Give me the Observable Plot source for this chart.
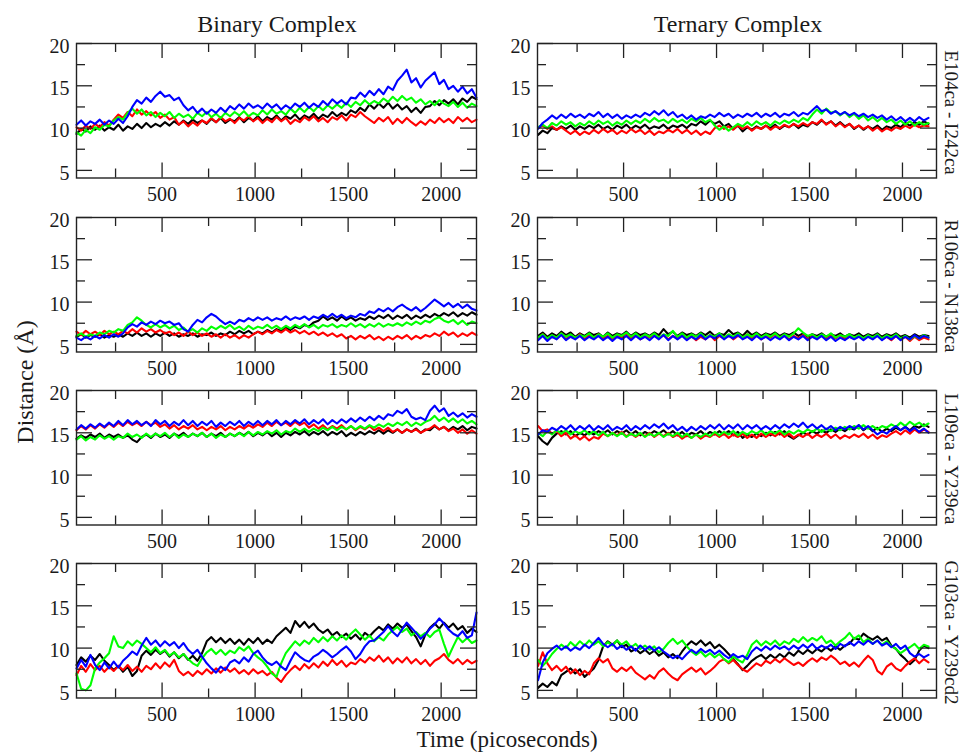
<!DOCTYPE html>
<html><head><meta charset="utf-8">
<script src="https://cdn.jsdelivr.net/npm/d3@7"></script>
<script src="https://cdn.jsdelivr.net/npm/@observablehq/plot@0.6"></script>
<style>
html,body{margin:0;padding:0;background:#fff;}
#chart{position:relative;width:963px;height:755px;overflow:hidden;font-family:"Liberation Serif","Times New Roman",serif;}
#chart .panel{position:absolute;}
#chart svg{overflow:visible;}
</style></head>
<body><div id="chart"></div>
<script>
// ---------- sampling & ticks ----------
const tStart = 40, tStep = 25; // ps
const majorX = [500, 1000, 1500, 2000];
const minorX = [250, 750, 1250, 1750];
const majorY = [5, 10, 15, 20];
const minorY = [7.5, 12.5, 17.5];
const columnTitles = ["Binary Complex", "Ternary Complex"];
const pairLabels = ["E104ca - I242ca", "R106ca - N138ca", "L109ca - Y239ca", "G103ca - Y239cd2"];
const seriesColors = ["#000000", "#ff0000", "#00ff00", "#0000ff"];

// ---------- E104ca - I242ca ----------
const binE104_black = [9.3,9.9,9.6,10.2,9.8,10.3,9.7,10.1,9.8,10.4, 9.7,10.2,9.9,10.5,10.0,10.6,10.1,10.5,10.2,10.7, 10.3,10.8,10.4,10.9,10.5,11.0,10.6,10.9,10.5,11.1, 10.7,11.2,10.6,11.0,10.8,11.3,10.7,11.2,10.9,11.4, 10.8,11.3,11.0,11.5,10.9,11.4,11.1,11.6,11.0,11.5, 11.2,11.7,11.1,11.6,11.3,11.9,11.4,11.8,11.5,12.1, 11.8,12.4,12.0,12.8,12.3,12.9,12.4,13.0,12.3,12.8, 12.2,12.6,11.9,12.4,11.8,12.5,12.6,13.2,12.7,13.3, 12.9,13.4,12.8,13.5,13.1,13.7,13.4];
const binE104_red = [10.1,9.7,10.3,9.9,10.5,10.1,10.7,10.3,11.0,11.6, 11.2,11.9,11.4,12.2,11.6,12.0,11.5,11.9,11.2,11.6, 11.0,11.3,10.4,10.8,10.2,10.7,10.3,10.9,10.6,11.2, 10.7,11.3,10.8,11.1,10.6,11.2,10.9,11.4,10.8,11.2, 10.6,11.1,10.7,11.3,10.8,11.2,10.5,11.0,10.7,11.3, 10.9,11.4,10.8,11.2,10.7,11.3,11.0,11.5,10.9,11.6, 11.3,11.9,11.4,11.0,10.6,11.2,10.8,11.3,10.5,11.1, 10.6,11.2,10.7,10.3,10.8,10.4,11.0,10.6,11.2,10.7, 11.1,10.6,11.3,10.8,11.2,10.7,11.0];
const binE104_green = [9.5,9.1,9.8,9.4,10.1,9.8,10.4,10.2,10.9,11.3, 11.0,11.8,12.3,11.7,12.2,11.5,11.9,11.3,11.8,11.4, 11.9,11.2,11.7,11.3,11.6,11.1,11.8,11.4,11.9,11.3, 11.7,11.2,11.8,11.4,11.9,11.5,12.0,11.4,11.8,11.5, 12.1,11.6,12.2,11.7,12.0,11.6,12.3,11.8,12.4,11.9, 12.5,12.0,12.6,12.1,12.7,12.3,12.8,12.4,13.0,12.5, 13.1,12.7,13.3,12.8,13.2,12.9,13.5,13.1,13.7,13.2, 13.8,13.3,13.6,13.0,13.4,12.8,13.2,12.7,13.3,12.9, 12.6,13.1,12.5,13.0,12.4,12.9,12.6];
const binE104_blue = [10.4,10.9,10.3,10.8,10.5,11.0,10.4,10.9,10.5,11.1, 10.6,11.4,12.5,13.3,12.9,13.6,13.1,13.8,14.3,13.7, 13.9,13.3,13.6,12.7,12.1,12.5,11.8,12.3,11.7,12.2, 11.8,12.4,11.9,12.6,12.2,12.8,12.3,12.9,12.4,12.7, 12.3,12.9,12.4,12.8,12.2,12.7,12.3,12.9,12.5,13.0, 12.4,12.9,12.5,13.2,12.7,13.4,12.9,13.3,12.8,13.6, 13.5,14.2,13.7,14.4,13.9,14.6,14.0,14.9,14.5,15.6, 16.2,16.9,15.4,15.9,14.8,15.6,16.1,16.6,15.2,15.7, 14.6,15.0,14.3,14.9,14.1,14.6,13.6];
const terE104_black = [9.2,9.7,9.4,10.0,9.8,10.2,9.9,10.3,9.8,10.2, 9.9,10.3,10.0,10.4,9.9,10.2,9.8,10.3,10.0,10.4, 9.9,10.3,10.0,10.4,9.9,10.2,10.0,10.4,9.9,10.3, 10.1,10.4,10.0,10.5,10.3,10.8,10.4,10.9,10.5,10.8, 10.2,10.5,9.9,10.3,9.6,10.1,9.8,10.2,9.9,10.3, 10.0,10.4,9.9,10.3,10.1,10.5,10.0,10.4,10.2,10.7, 10.4,10.9,10.5,10.8,10.3,10.7,10.2,10.5,9.9,10.3, 9.8,10.2,9.9,10.3,9.8,10.2,10.0,10.4,10.1,10.6, 10.3,10.7,10.4,10.8,10.5];
const terE104_red = [10.0,10.3,9.9,10.2,9.8,10.1,9.7,9.3,9.7,9.2, 9.6,9.3,9.8,9.4,9.9,9.5,9.8,9.3,9.7,9.4, 9.9,9.5,9.8,9.3,9.7,9.2,9.6,9.4,9.8,9.5, 9.9,9.4,9.8,9.3,9.7,9.2,9.6,9.3,10.0,10.3, 9.9,10.2,9.8,10.3,9.9,10.2,9.7,10.1,9.9,10.3, 9.8,10.2,10.0,10.4,10.1,10.5,10.2,10.6,10.3,10.7, 10.5,11.0,10.4,10.8,10.2,10.6,10.1,10.5,10.0,10.3, 9.9,10.2,9.7,10.1,9.6,10.0,9.7,10.1,9.9,10.3, 10.0,10.4,10.1,10.3,10.2];
const terE104_green = [10.1,10.4,10.0,10.6,10.3,10.8,10.4,10.7,10.2,10.6, 10.3,10.8,10.4,10.9,10.5,10.8,10.3,10.7,10.4,10.9, 10.5,10.9,10.6,11.1,10.7,11.2,10.8,11.0,10.6,11.1, 10.7,11.0,10.6,11.1,10.8,11.2,10.7,11.0,10.3,9.8, 10.2,9.7,10.1,10.5,10.2,10.7,10.3,10.8,10.4,10.7, 10.3,10.8,10.5,10.9,10.6,11.0,10.7,11.2,10.9,11.6, 12.2,11.7,12.3,11.8,12.0,11.5,11.9,11.3,11.7,11.1, 11.5,10.9,11.3,10.8,11.2,10.7,11.0,10.5,10.9,10.4, 10.8,10.3,10.7,10.4,10.6];
const terE104_blue = [9.9,10.6,11.0,11.5,11.1,11.6,11.2,11.7,11.3,11.6, 11.2,11.7,11.4,11.9,11.3,11.7,11.2,11.6,11.1,11.5, 11.2,11.6,11.3,11.8,11.5,12.0,11.6,12.1,11.5,11.9, 11.3,11.6,11.1,11.5,11.0,11.4,11.2,11.6,11.3,11.8, 11.4,11.7,11.2,11.6,11.3,11.7,11.4,11.8,11.3,11.7, 11.4,11.8,11.3,11.7,11.5,11.9,11.4,11.8,11.6,12.1, 12.6,12.0,12.2,11.7,12.0,11.6,11.9,11.5,11.8,11.4, 11.7,11.3,11.6,11.2,11.5,11.0,11.4,10.9,11.3,10.8, 11.2,10.8,11.3,10.9,11.2];

// ---------- R106ca - N138ca ----------
const binR106_black = [5.9,6.2,5.8,6.1,5.9,6.2,5.8,6.1,5.9,6.2, 5.9,6.3,6.0,6.4,6.0,6.3,5.9,6.3,6.0,6.4, 6.0,6.3,5.9,6.2,6.0,6.3,5.9,6.2,6.1,6.4, 6.0,6.3,6.1,6.5,6.2,6.6,6.3,6.6,6.2,6.5, 6.3,6.7,6.4,6.8,6.6,7.0,6.7,7.1,6.9,7.3, 7.1,7.6,7.8,8.3,7.9,8.2,7.8,8.3,7.9,8.2, 7.8,8.1,7.9,8.3,8.0,8.4,8.1,8.5,8.0,8.4, 8.1,8.5,8.0,8.4,8.1,8.5,8.2,8.6,8.3,8.7, 8.4,8.8,8.3,8.7,8.4,8.8,8.5];
const binR106_red = [6.5,6.1,6.6,6.2,6.5,6.1,6.6,6.2,6.5,6.2, 6.6,6.3,6.8,6.4,6.9,6.5,6.8,6.4,6.7,6.3, 6.5,6.1,6.4,6.0,6.5,6.1,6.4,6.0,6.3,5.9, 6.2,5.8,6.2,5.8,6.1,5.7,6.1,5.8,6.2,6.5, 6.2,6.6,6.3,6.7,6.4,6.8,6.4,6.7,6.3,6.6, 6.2,6.5,6.1,6.4,6.0,6.3,5.9,6.2,5.7,6.0, 5.6,6.0,5.7,6.1,5.6,5.9,5.5,5.9,5.6,6.0, 5.7,6.1,5.6,6.0,5.7,6.1,5.9,6.3,6.0,6.5, 6.1,6.4,5.9,6.3,6.0,6.4,6.1];
const binR106_green = [6.0,6.3,5.9,6.2,6.0,6.4,6.2,6.6,6.4,6.8, 6.6,7.3,7.6,8.2,7.8,7.3,7.0,7.4,7.0,7.3, 6.9,7.2,6.7,7.0,6.5,6.8,6.4,6.9,6.6,7.1, 6.8,7.2,6.9,7.3,6.8,7.1,6.7,7.2,6.8,7.1, 6.9,7.3,6.9,7.2,6.8,7.2,6.9,7.3,7.0,7.4, 7.0,7.3,6.9,7.3,7.1,7.4,7.0,7.3,7.1,7.5, 7.1,7.4,7.0,7.4,7.1,7.5,7.1,7.4,7.2,7.5, 7.2,7.6,7.3,7.7,7.4,7.8,7.6,8.0,8.2,7.8, 7.6,7.9,7.4,7.8,7.3,7.7,7.5];
const binR106_blue = [5.8,5.5,5.9,5.6,6.0,5.7,6.1,5.8,6.2,5.9, 6.3,7.0,7.4,7.1,7.6,7.3,7.7,7.4,7.8,7.5, 7.7,7.3,7.5,6.8,6.5,7.3,7.9,7.6,8.2,8.6, 8.3,7.8,7.4,7.7,7.4,7.9,7.7,8.1,7.8,8.2, 7.9,8.2,7.8,8.1,7.9,8.3,7.9,8.2,8.0,8.3, 7.9,8.3,8.1,8.5,8.2,8.6,8.2,8.5,8.1,8.4, 8.2,8.6,8.4,8.9,8.7,9.2,8.9,9.3,8.9,9.4, 9.7,9.3,9.0,9.4,8.9,9.3,9.8,10.3,9.9,9.5, 9.9,9.4,9.8,9.3,9.7,9.2,9.0];
const terR106_black = [6.0,6.4,5.9,6.3,6.0,6.5,6.1,6.4,5.9,6.3, 6.0,6.4,6.1,6.3,5.9,6.4,6.0,6.3,6.1,6.5, 6.0,6.4,6.1,6.3,6.0,6.4,6.1,6.8,6.2,6.5, 6.0,6.4,6.1,6.3,6.0,6.4,6.1,6.5,6.0,6.3, 6.1,6.7,6.2,6.4,6.0,6.6,6.1,6.4,6.0,6.3, 6.1,6.4,6.0,6.3,6.1,6.4,6.0,6.3,5.9,6.2, 6.0,6.3,5.9,6.2,6.0,6.3,5.9,6.2,6.0,6.3, 5.9,6.2,6.0,6.3,5.9,6.2,6.0,6.3,5.9,6.1, 5.8,6.2,5.9,6.1,6.0];
const terR106_red = [5.6,6.2,5.5,6.0,5.7,6.3,5.6,6.1,5.7,6.2, 5.6,6.1,5.8,6.2,5.7,6.0,5.6,6.1,5.8,6.3, 5.7,6.1,5.6,6.0,5.8,6.2,5.7,6.1,5.6,6.0, 5.7,6.1,5.6,6.0,5.5,5.9,5.6,6.1,5.5,6.0, 5.7,6.1,5.6,6.0,5.8,6.2,5.7,6.1,5.6,6.0, 5.8,6.2,5.7,6.1,5.6,6.0,5.7,6.1,5.6,6.0, 5.7,6.1,5.6,6.0,5.7,6.1,5.6,5.9,5.7,6.0, 5.6,6.0,5.7,6.1,5.6,5.9,5.5,6.0,5.6,5.9, 5.4,5.9,5.5,5.8,5.6];
const terR106_green = [5.8,6.2,5.7,6.1,5.8,6.3,5.9,6.2,5.8,6.1, 5.9,6.3,5.8,6.2,5.9,6.3,5.8,6.2,6.0,6.4, 5.9,6.3,5.8,6.2,5.9,6.3,5.8,6.2,6.0,6.6, 5.9,6.3,5.8,6.2,5.9,6.3,5.8,6.1,5.9,6.3, 5.8,6.2,5.9,6.3,5.8,6.2,5.9,6.3,5.8,6.2, 5.9,6.3,5.8,6.2,5.9,6.3,6.9,6.4,6.0,6.2, 5.8,6.2,5.9,6.3,5.8,6.1,5.9,6.2,5.8,6.1, 5.7,6.1,5.8,6.2,5.7,6.1,5.8,6.2,5.7,6.0, 5.6,6.0,5.7,6.1,5.8];
const terR106_blue = [5.5,6.0,5.4,5.9,5.6,6.1,5.5,5.9,5.6,6.0, 5.5,5.9,5.6,6.0,5.5,5.9,5.4,5.9,5.6,6.0, 5.5,6.0,5.6,5.9,5.5,6.0,5.6,6.1,5.5,6.0, 5.6,6.0,5.5,5.9,5.6,6.1,5.6,6.0,5.7,6.1, 5.6,6.0,5.7,6.1,5.6,5.9,5.5,6.0,5.6,5.9, 5.5,5.9,5.6,6.0,5.5,5.9,5.6,6.0,5.5,5.9, 5.6,6.0,5.5,5.9,5.4,5.8,5.5,5.9,5.6,5.9, 5.5,5.9,5.6,6.0,5.5,5.9,5.6,6.0,5.5,5.9, 5.6,6.1,5.7,6.0,5.8];

// ---------- L109ca - Y239ca ----------
const binL109_black = [14.3,14.7,14.4,14.8,14.5,14.9,14.4,14.8,14.5,14.8, 14.4,14.7,14.2,13.9,14.5,14.8,14.4,14.9,14.5,14.8, 14.4,14.9,14.6,15.0,14.5,14.9,14.6,15.0,14.5,14.9, 14.6,15.0,14.5,14.9,14.6,15.0,14.7,15.1,14.6,15.0, 14.7,15.1,14.6,15.0,14.5,15.0,14.7,15.1,14.8,15.2, 14.7,15.1,14.8,15.2,14.7,15.1,14.8,15.2,14.6,15.0, 14.7,15.1,14.8,15.2,14.9,15.3,14.9,15.3,15.0,15.4, 15.0,15.4,15.1,15.5,15.0,15.4,15.3,15.8,15.4,15.7, 15.3,15.7,15.4,15.8,15.3,15.7,15.5];
const binL109_red = [15.3,15.8,15.4,15.9,15.5,16.0,15.6,16.1,15.7,16.2, 15.8,16.3,15.9,16.2,15.8,16.3,15.9,16.2,15.7,16.0, 15.5,15.9,15.4,15.8,15.5,15.9,15.4,15.7,15.3,15.7, 15.4,15.8,15.3,15.7,15.4,15.8,15.5,15.9,15.6,16.0, 15.7,16.2,15.8,16.3,15.9,16.2,15.8,16.3,15.9,16.2, 15.6,16.0,15.5,15.9,15.4,15.8,15.5,15.9,15.4,15.8, 15.3,15.7,15.4,15.8,15.3,15.6,15.2,15.6,15.1,15.4, 15.0,15.4,15.1,15.4,15.0,15.3,15.5,15.9,15.4,15.7, 15.2,15.5,15.0,15.4,14.9,15.3,14.9];
const binL109_green = [14.2,14.6,14.1,14.5,14.2,14.7,14.3,14.6,14.2,14.6, 14.4,14.9,14.5,14.8,14.4,14.9,14.5,14.9,14.6,15.0, 14.5,14.9,14.4,14.8,14.5,14.9,14.6,15.0,14.5,14.9, 14.4,14.8,14.5,14.9,14.6,15.0,14.6,15.1,14.7,15.1, 14.8,15.2,14.9,15.3,14.8,15.2,15.0,15.5,15.1,15.5, 15.1,15.5,15.2,15.6,15.3,15.7,15.3,15.7,15.4,15.8, 15.4,15.8,15.5,15.9,15.6,16.0,15.7,16.1,15.8,16.2, 15.9,16.3,15.8,16.2,15.9,16.3,16.5,17.0,16.4,16.8, 16.3,16.7,16.2,16.6,16.1,16.4,16.0];
const binL109_blue = [15.4,15.9,15.5,16.0,15.6,16.1,15.7,16.2,15.8,16.4, 15.9,16.5,16.0,16.4,15.9,16.3,15.8,16.5,16.0,16.4, 15.8,16.3,15.9,16.5,15.9,16.4,15.8,16.3,15.9,16.4, 15.7,16.2,15.8,16.3,15.9,16.4,15.8,16.3,15.9,16.4, 15.9,16.4,16.0,16.5,15.9,16.4,16.0,16.5,16.1,16.6, 16.0,16.5,16.1,16.6,16.0,16.5,16.1,16.6,16.2,16.7, 16.3,16.8,16.4,16.9,16.5,17.0,16.6,17.2,17.0,17.6, 17.3,17.8,16.9,16.6,16.8,16.5,17.6,18.2,17.5,17.9, 17.0,17.4,16.9,17.3,16.8,17.2,16.9];
const terL109_black = [14.6,14.0,13.6,14.4,14.9,15.2,14.8,15.2,14.6,15.0, 14.7,15.1,14.8,15.2,14.9,15.3,14.8,15.2,14.9,15.3, 14.8,15.2,14.7,15.1,14.8,15.2,14.9,15.3,14.8,15.2, 14.7,15.1,14.6,15.0,14.8,15.2,14.7,15.1,14.8,15.2, 14.8,15.2,14.7,15.1,14.4,14.8,14.5,14.9,14.6,15.0, 14.7,15.1,14.8,15.2,14.6,14.3,14.7,15.0,14.8,15.2, 14.9,15.3,15.0,15.4,15.1,15.5,15.2,15.6,15.4,15.9, 15.3,15.7,15.2,15.6,15.1,15.5,15.2,15.6,15.3,15.7, 15.3,15.8,15.6,16.0,15.7];
const terL109_red = [15.8,15.2,15.4,14.9,15.2,14.6,15.0,14.3,14.7,14.2, 14.6,14.1,14.5,14.3,14.9,14.6,15.0,14.7,15.1,14.6, 14.9,14.5,14.9,14.6,15.0,14.5,14.9,14.6,15.0,14.5, 14.8,14.3,14.7,14.4,14.8,14.3,14.7,14.5,14.9,14.5, 14.9,14.4,14.8,14.5,14.9,14.4,14.8,14.4,14.9,14.5, 14.9,14.6,15.0,14.5,14.9,14.4,14.8,14.5,14.9,14.4, 14.8,14.5,14.9,14.4,14.8,14.3,14.7,14.4,14.8,14.5, 14.9,14.4,14.8,14.3,14.7,14.5,14.9,15.2,14.8,15.3, 14.9,15.4,15.0,15.4,15.1];
const terL109_green = [15.0,14.6,15.2,14.8,15.3,14.9,15.3,14.8,15.2,14.9, 15.3,14.8,15.2,14.7,15.1,14.6,15.0,14.6,15.0,14.5, 14.9,14.6,15.0,14.5,14.9,14.6,15.0,14.5,14.9,14.6, 15.0,14.5,14.9,14.4,14.8,14.5,14.9,14.6,15.1,14.7, 15.1,14.8,15.2,14.7,15.1,14.8,15.2,14.9,15.3,14.8, 15.2,14.9,15.3,14.8,15.2,14.9,15.3,15.0,15.4,15.1, 15.5,15.1,15.5,15.2,15.6,15.3,15.7,15.4,15.8,15.5, 15.9,15.5,15.8,15.4,15.8,15.6,16.0,15.7,16.2,15.8, 16.3,15.9,16.2,15.8,16.1];
const terL109_blue = [14.8,15.3,15.1,15.6,15.3,15.8,15.4,15.9,15.3,15.8, 15.4,15.9,15.3,15.8,15.4,15.9,15.3,15.7,15.4,15.9, 15.3,15.8,15.4,15.9,15.5,16.0,15.6,16.1,15.5,15.9, 15.3,15.7,15.2,15.7,15.3,15.8,15.4,15.9,15.5,16.0, 15.4,15.9,15.5,16.0,15.4,15.9,15.5,15.9,15.4,15.8, 15.4,15.9,15.5,16.0,15.6,16.1,15.7,16.2,15.6,16.0, 15.5,15.9,15.4,15.8,15.3,15.7,15.4,15.8,15.5,15.9, 15.4,15.8,15.3,14.8,15.2,14.9,15.4,15.8,15.3,15.7, 15.2,15.6,15.1,15.5,15.0];

// ---------- G103ca - Y239cd2 ----------
const binG103_black = [8.0,8.9,8.4,9.1,8.6,9.3,8.5,8.0,7.4,7.9, 7.2,7.8,6.7,7.3,9.1,9.7,9.2,9.8,9.3,9.7, 9.0,9.5,8.8,9.3,8.6,9.1,8.5,9.4,10.8,11.3, 10.7,11.2,10.6,11.1,10.5,11.0,10.4,11.1,10.6,11.2, 10.5,11.0,10.6,11.4,11.9,12.4,11.8,13.2,12.5,13.1, 12.4,12.9,12.2,11.8,12.2,11.5,11.9,11.3,11.7,11.1, 11.6,11.0,11.8,11.4,12.0,12.5,12.1,12.8,12.3,12.9, 12.4,12.8,12.0,11.3,10.2,11.6,12.4,12.9,12.3,13.0, 12.4,12.9,12.2,12.6,11.8,12.3,11.9];
const binG103_red = [6.8,7.9,7.2,8.1,7.4,7.9,7.2,7.8,7.3,7.9, 7.4,8.0,7.3,7.8,7.2,7.9,7.5,8.2,7.6,8.3, 7.8,8.6,7.3,6.8,7.2,6.7,7.3,6.9,7.5,7.0, 7.6,7.1,7.7,7.2,7.6,7.0,7.4,6.9,7.5,7.0, 7.3,6.8,7.2,6.5,6.0,6.8,7.4,7.9,7.4,8.1, 7.6,8.2,7.7,8.4,7.9,8.6,8.0,8.5,7.8,8.3, 8.1,8.7,8.3,8.9,8.5,9.1,8.4,8.9,8.2,8.8, 8.3,8.9,8.2,8.7,8.1,8.6,7.9,8.5,8.8,9.3, 8.6,8.2,8.7,8.1,8.6,8.2,8.5];
const binG103_green = [7.0,5.2,5.0,5.6,7.6,8.3,8.8,9.4,11.4,10.2, 10.0,10.8,10.3,10.9,10.5,10.0,9.5,10.1,9.4,9.8, 9.1,9.5,8.9,9.3,8.7,8.2,7.9,8.8,9.5,9.9, 9.3,9.8,9.2,9.7,9.4,10.1,9.7,10.2,9.4,8.9, 8.5,7.8,7.0,6.6,8.2,9.4,10.1,10.8,10.3,10.9, 10.5,11.2,10.7,11.3,10.8,11.4,10.9,11.5,11.0,11.7, 12.2,11.6,11.0,11.5,10.8,11.3,10.9,11.6,12.1,12.5, 11.9,12.3,11.5,11.9,11.4,11.8,11.3,11.9,12.2,10.5, 9.0,10.2,11.3,10.7,11.2,10.6,10.9];
const binG103_blue = [7.6,8.6,7.8,9.2,8.0,7.4,8.3,7.6,8.4,7.7, 8.5,9.0,9.6,9.2,10.3,11.2,10.4,10.9,10.2,10.8, 10.3,10.7,10.0,10.6,9.8,9.3,9.8,9.0,8.2,7.6, 7.1,7.8,7.4,8.3,8.6,8.2,8.9,8.4,9.3,9.7, 8.9,8.3,8.0,8.4,7.8,7.4,8.5,9.5,9.0,8.6, 8.4,9.0,9.3,9.8,9.4,8.9,9.3,9.8,10.2,9.6, 8.7,9.3,10.2,10.8,10.9,11.4,11.9,12.6,11.9,11.4, 12.2,13.0,12.4,11.8,11.1,11.6,12.3,12.8,13.5,12.9, 12.2,11.7,11.4,12.0,11.2,11.5,14.2];
const terG103_black = [5.3,5.8,5.4,6.0,5.6,6.8,7.2,7.6,7.0,7.5, 6.6,7.1,7.6,8.6,10.2,10.8,10.4,10.9,10.1,10.4, 9.6,9.9,9.4,9.8,9.3,9.7,9.1,9.5,8.9,9.3, 8.8,9.6,10.3,10.8,10.4,10.9,10.3,10.7,10.0,10.4, 9.9,9.3,8.7,8.1,7.4,7.9,8.5,8.9,9.2,8.7, 9.2,8.8,9.3,8.9,9.5,9.1,9.7,9.3,9.8,9.4, 9.9,9.6,10.1,9.7,10.2,9.8,10.3,10.5,11.2,11.0, 11.7,11.3,11.0,11.4,10.9,11.2,10.3,9.9,9.2,8.7, 8.1,8.6,9.7,10.3,10.0];
const terG103_red = [7.9,9.5,8.2,7.4,7.9,7.3,7.8,7.0,7.5,6.8, 7.3,6.9,8.2,8.8,8.3,8.7,7.6,7.2,7.7,7.3, 7.8,7.1,6.7,6.3,6.8,6.4,7.2,7.6,7.0,6.5, 6.2,6.9,7.3,7.7,7.2,7.6,6.9,7.3,7.8,8.4, 8.7,8.2,8.6,8.0,7.5,7.2,7.7,8.2,7.9,8.5, 8.2,8.7,8.3,8.8,8.4,8.0,8.3,7.9,8.4,8.8, 8.4,8.9,8.6,9.1,8.7,8.1,8.4,7.9,8.3,7.8, 8.5,9.1,8.6,7.3,6.9,7.8,8.2,7.6,7.3,7.9, 8.4,8.8,8.2,8.7,8.3];
const terG103_green = [8.6,7.9,8.5,9.3,9.9,10.4,10.0,10.7,10.2,10.8, 10.3,10.9,10.4,10.8,10.2,10.7,10.3,10.9,10.4,10.8, 10.1,10.5,9.9,10.3,9.8,10.2,9.5,9.9,10.6,11.1, 10.5,10.9,10.2,9.6,9.2,9.6,9.0,9.4,8.9,9.3, 8.7,8.3,9.0,8.6,8.3,9.2,10.4,10.9,10.3,10.8, 10.4,10.9,10.3,10.8,10.5,11.1,10.7,11.3,10.8,11.2, 10.9,11.4,10.6,10.9,10.3,10.8,11.2,11.8,11.1,11.5, 10.7,11.1,10.5,10.9,10.4,10.8,10.2,9.9,9.4,9.8, 10.1,10.5,9.9,10.4,10.2];
const terG103_blue = [6.2,8.3,9.4,9.9,10.3,9.8,10.2,9.7,10.1,9.8, 10.4,10.0,10.6,11.2,10.5,10.1,10.5,9.9,10.3,9.8, 10.2,9.7,10.3,9.8,10.2,9.7,10.1,9.6,9.2,8.8, 9.1,8.7,9.3,9.8,9.4,9.9,9.5,9.8,9.3,9.7, 9.2,8.8,9.3,8.9,9.1,8.7,9.6,10.1,9.7,10.2, 9.8,10.3,9.9,10.2,9.8,10.3,9.9,10.4,10.0,10.5, 9.9,10.3,10.0,10.4,9.9,10.5,10.2,10.7,10.3,10.8, 10.4,10.9,10.5,10.9,10.3,10.6,10.1,10.5,9.9,10.3, 9.4,9.0,9.3,8.9,9.2];

// ---------- assemble panels (rows = residue pairs, columns = complex) ----------
const panelSeries = [
  [[binE104_black, binE104_red, binE104_green, binE104_blue], [terE104_black, terE104_red, terE104_green, terE104_blue]],
  [[binR106_black, binR106_red, binR106_green, binR106_blue], [terR106_black, terR106_red, terR106_green, terR106_blue]],
  [[binL109_black, binL109_red, binL109_green, binL109_blue], [terL109_black, terL109_red, terL109_green, terL109_blue]],
  [[binG103_black, binG103_red, binG103_green, binG103_blue], [terG103_black, terG103_red, terG103_green, terG103_blue]]
];

// layout
const frameLeft = [76, 537], frameWidth = [400, 399];
const xDomains = [[40, 2190], [37, 2183]];
const rowTop = [43.3, 216.7, 389.5, 563.3], frameHeight = 134.5;
const mL = 40, mR = 6, mT = 10, mB = 34;
const majorLen = 15, minorLen = 9;
const FONT = '"Liberation Serif","Times New Roman",serif';

const chart = document.getElementById("chart");

function makePanel(row, col) {
  const W = frameWidth[col], H = frameHeight;
  const marks = [];
  panelSeries[row][col].forEach((vals, k) => {
    const pts = vals.map((d, i) => ({t: tStart + i * tStep, d}));
    marks.push(Plot.line(pts, {x: "t", y: "d", stroke: seriesColors[k], strokeWidth: 2.1}));
  });
  const tk = {stroke: "#222", strokeWidth: 1.3};
  // inward ticks on all four sides
  marks.push(Plot.ruleX(majorX, {...tk, insetTop: H - majorLen}));
  marks.push(Plot.ruleX(majorX, {...tk, insetBottom: H - majorLen}));
  marks.push(Plot.ruleX(minorX, {...tk, insetTop: H - minorLen}));
  marks.push(Plot.ruleX(minorX, {...tk, insetBottom: H - minorLen}));
  marks.push(Plot.ruleY(majorY, {...tk, insetRight: W - majorLen - 1}));
  marks.push(Plot.ruleY(majorY, {...tk, insetLeft: W - majorLen - 1}));
  marks.push(Plot.ruleY(minorY, {...tk, insetRight: W - minorLen}));
  marks.push(Plot.ruleY(minorY, {...tk, insetLeft: W - minorLen}));
  marks.push(Plot.axisX(majorX, {anchor: "bottom", tickSize: 0, tickPadding: 9, label: null, fontSize: 20, tickFormat: d => String(d)}));
  marks.push(Plot.axisY(majorY, {anchor: "left", tickSize: 0, tickPadding: 7, dy: 3, label: null, fontSize: 20, tickFormat: d => String(d)}));
  marks.push(Plot.frame({stroke: "#222", strokeWidth: 1.4}));

  const svg = Plot.plot({
    width: mL + W + mR,
    height: mT + H + mB,
    marginLeft: mL, marginRight: mR, marginTop: mT, marginBottom: mB,
    x: {domain: xDomains[col]},
    y: {domain: [4.1, 20]},
    style: {fontFamily: FONT, fontSize: "20px", color: "#1a1a1a", background: "transparent", overflow: "visible"},
    marks
  });
  const div = document.createElement("div");
  div.className = "panel";
  div.style.left = (frameLeft[col] - mL) + "px";
  div.style.top = (rowTop[row] - mT) + "px";
  div.appendChild(svg);
  chart.appendChild(div);
}

for (let r = 0; r < 4; r++) for (let c = 0; c < 2; c++) makePanel(r, c);

// overlay text: column titles, row labels, axis titles
const overlay = d3.select(chart).append("svg")
  .attr("width", 963).attr("height", 755)
  .style("position", "absolute").style("left", "0px").style("top", "0px")
  .style("overflow", "visible")
  .attr("font-family", FONT).attr("fill", "#1a1a1a");

const colCenter = [277, 738];
columnTitles.forEach((t, c) => {
  overlay.append("text").attr("x", colCenter[c]).attr("y", 32)
    .attr("text-anchor", "middle").attr("font-size", 24).text(t);
});
pairLabels.forEach((t, r) => {
  const cy = rowTop[r] + frameHeight / 2 + 2;
  overlay.append("text").attr("transform", `translate(945,${cy}) rotate(90)`)
    .attr("text-anchor", "middle").attr("font-size", 19).text(t);
});
overlay.append("text").attr("transform", "translate(33,382) rotate(-90)")
  .attr("text-anchor", "middle").attr("font-size", 24).text("Distance (Å)");
overlay.append("text").attr("x", 507).attr("y", 747)
  .attr("text-anchor", "middle").attr("font-size", 23).text("Time (picoseconds)");
</script></body></html>
